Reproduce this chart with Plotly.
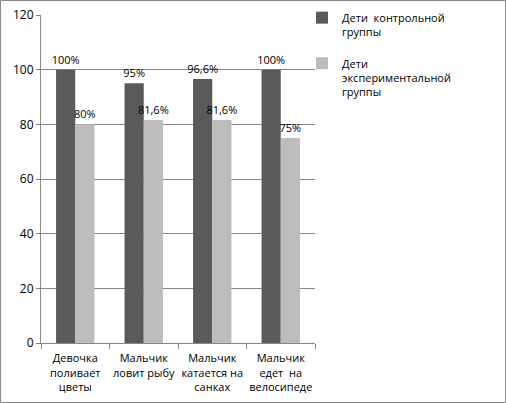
import plotly.graph_objects as go

categories = ["Девочка<br>поливает<br>цветы", "Мальчик<br>ловит рыбу",
              "Мальчик<br>катается на<br>санках", "Мальчик<br>едет  на<br>велосипеде"]
control = [100, 95, 96.6, 100]
experimental = [80, 81.6, 81.6, 75]
control_labels = ["100%", "95%", "96,6%", "100%"]
experimental_labels = ["80%", "81,6%", "81,6%", "75%"]
series_names = ["Дети  контрольной<br>группы", "Дети<br>экспериментальной<br>группы"]

W, H = 506, 403
L, R, T, B = 41, 315, 15, 343
pw, ph = R - L, B - T

font = dict(family="Open Sans, Liberation Sans, sans-serif", size=11, color="#000000")

fig = go.Figure()
fig.add_trace(go.Bar(x=categories, y=control, name=series_names[0], legendgroup="g1",
                     marker=dict(color="#5a5a5a", line=dict(width=0)),
                     text=control_labels, textposition="outside", cliponaxis=False,
                     constraintext="none", textfont=font))
fig.add_trace(go.Bar(x=categories, y=experimental, name=series_names[1], legendgroup="g2",
                     marker=dict(color="#bcbcbc", line=dict(width=0)),
                     text=experimental_labels, textposition="outside", cliponaxis=False,
                     constraintext="none", textfont=font))

fig.update_layout(
    width=W, height=H,
    margin=dict(l=L, r=W - R, t=T, b=H - B, pad=0, autoexpand=False),
    paper_bgcolor="white", plot_bgcolor="white",
    font=font,
    barmode="group", bargap=0.44, bargroupgap=0,
    showlegend=True,
    legend=dict(x=(302 - L) / pw, y=(B - 4) / ph, xanchor="left", yanchor="top",
                font=dict(family="Open Sans, Liberation Sans, sans-serif", size=11),
                itemwidth=30, tracegroupgap=14, valign="top", bgcolor="rgba(0,0,0,0)"),
)
fig.update_yaxes(range=[0, 120], dtick=20, showgrid=True, gridcolor="#878787", gridwidth=1,
                 showline=True, linecolor="#878787", ticks="outside", ticklen=4,
                 tickcolor="#878787", zeroline=False, tickfont=dict(size=12), automargin=False)
fig.update_xaxes(showline=True, linecolor="#878787", ticks="outside", ticklen=5,
                 tickcolor="#878787", tickson="boundaries", tickangle=0,
                 ticklabelstandoff=5, tickfont=dict(size=11), automargin=False)

# outer chart border
fig.add_shape(type="rect", xref="paper", yref="paper",
              x0=(0.5 - L) / pw, x1=(W - 0.5 - L) / pw,
              y0=(B - (H - 0.5)) / ph, y1=(B - 0.5) / ph,
              line=dict(color="#878787", width=1), fillcolor="rgba(0,0,0,0)", layer="below")

fig.write_html("out.html", config={"displayModeBar": False},
               post_script="document.body.style.margin='0';document.body.style.overflow='hidden';")
